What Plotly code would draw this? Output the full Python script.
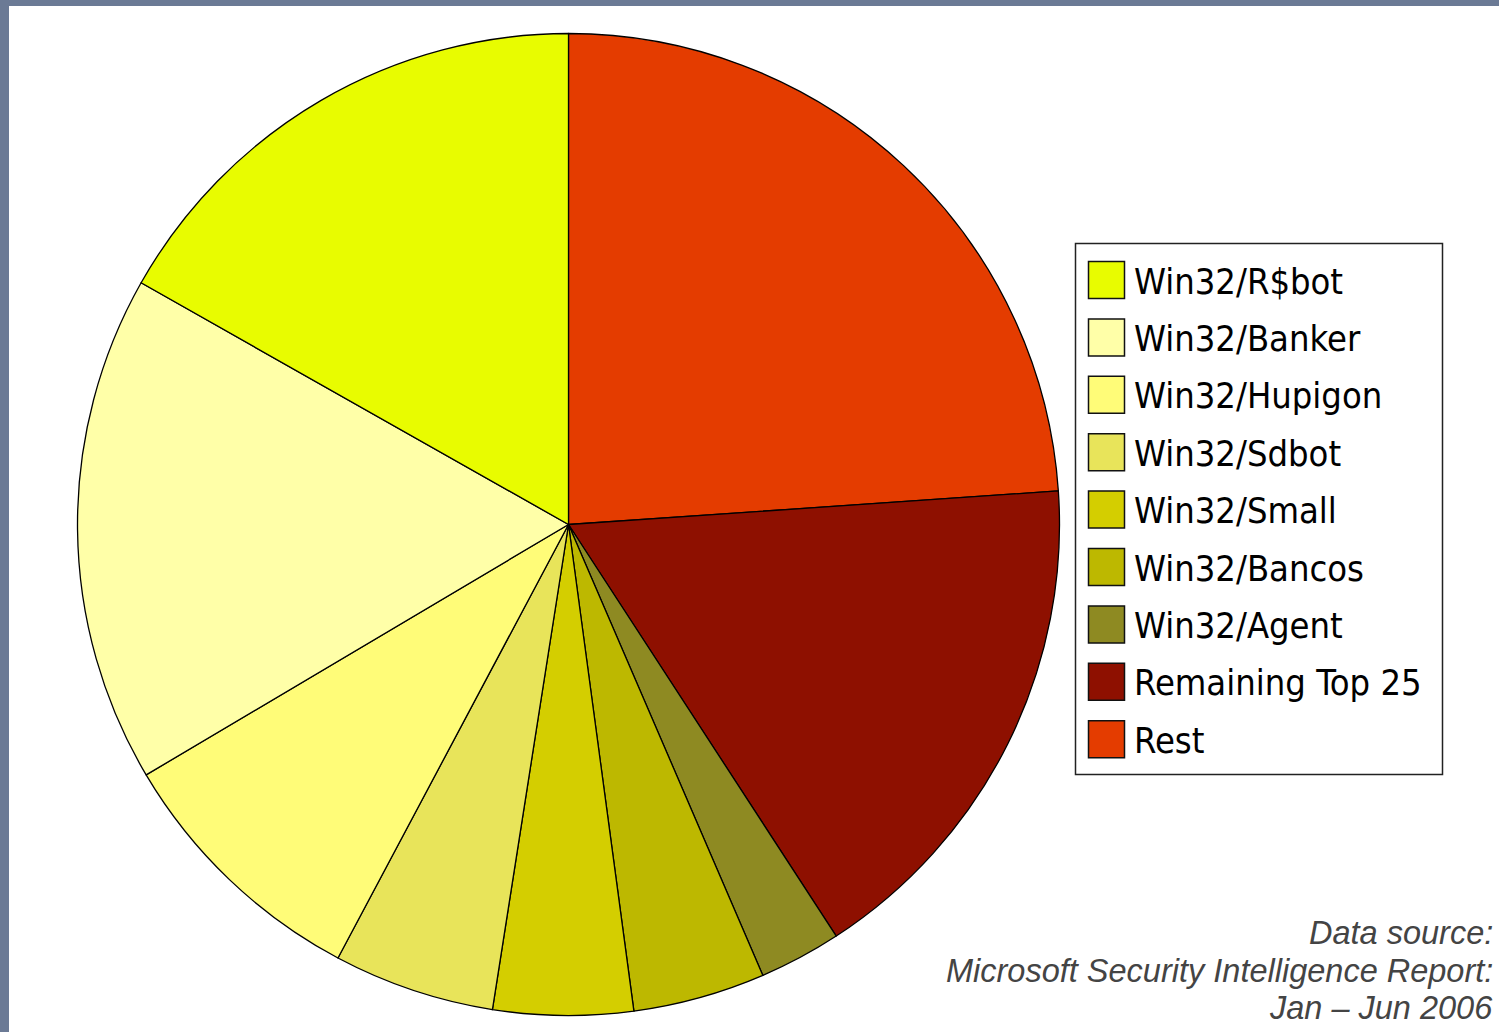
import plotly.graph_objects as go

# ---- data ----
labels = ["Win32/R$bot", "Win32/Banker", "Win32/Hupigon", "Win32/Sdbot",
          "Win32/Small", "Win32/Bancos", "Win32/Agent", "Remaining Top 25", "Rest"]
values = [16.8, 16.7, 8.7, 5.3, 4.6, 4.35, 2.7, 16.9, 23.9]
colors = ["#E8FC00", "#FFFFA8", "#FFFC78", "#E8E45A", "#D4CE00",
          "#BDB800", "#8E8A22", "#8E1000", "#E43C00"]
footer_lines = ["Data source:", "Microsoft Security Intelligence Report:", "Jan \u2013 Jun 2006"]

W, H = 1499, 1032


def px(x):
    return x / W


def py(y):
    return (H - y) / H


# pie geometry (pixels)
cx, cy, r = 568.5, 524.5, 491

fig = go.Figure()
# slices drawn clockwise from 12 o'clock: Rest first ... R$bot last
fig.add_trace(go.Pie(
    labels=labels[::-1],
    values=values[::-1],
    marker=dict(colors=colors[::-1], line=dict(color="#000000", width=1.3)),
    sort=False,
    direction="clockwise",
    rotation=0,
    textinfo="none",
    hoverinfo="label+percent",
    showlegend=False,
    domain=dict(x=[px(cx - r), px(cx + r)], y=[py(cy + r), py(cy - r)]),
))

shapes = []
annotations = []

# frame bands
shapes.append(dict(type="rect", xref="paper", yref="paper", x0=0, x1=px(9), y0=0, y1=1,
                   fillcolor="#6B7A95", line=dict(width=0), layer="above"))
shapes.append(dict(type="rect", xref="paper", yref="paper", x0=0, x1=1, y0=py(6), y1=1,
                   fillcolor="#6B7A95", line=dict(width=0), layer="above"))

# legend box
shapes.append(dict(type="rect", xref="paper", yref="paper",
                   x0=px(1075.5), x1=px(1442.5), y0=py(774.5), y1=py(243.5),
                   fillcolor="white", line=dict(color="#222222", width=1.5)))

row0, step = 280, 57.4
for i, (lab, col) in enumerate(zip(labels, colors)):
    yc = row0 + i * step
    shapes.append(dict(type="rect", xref="paper", yref="paper",
                       x0=px(1088.5), x1=px(1124.5), y0=py(yc + 18.5), y1=py(yc - 18.5),
                       fillcolor=col, line=dict(color="#111111", width=1.5)))
    annotations.append(dict(xref="paper", yref="paper", x=px(1132), y=py(yc + 1),
                            xanchor="left", yanchor="middle", showarrow=False,
                            text=lab,
                            font=dict(family="DejaVu Sans Condensed, DejaVu Sans",
                                      size=36, color="#000000")))

# footer
for j, line in enumerate(footer_lines):
    annotations.append(dict(xref="paper", yref="paper", x=px(1495), y=py(933 + j * 37.5),
                            xanchor="right", yanchor="middle", showarrow=False,
                            text="<i>" + line + "</i>",
                            font=dict(family="Liberation Sans, Arial", size=32.5, color="#444444")))

fig.update_layout(
    width=W, height=H,
    margin=dict(l=0, r=0, t=0, b=0),
    paper_bgcolor="white",
    plot_bgcolor="white",
    shapes=shapes,
    annotations=annotations,
    showlegend=False,
)

fig.write_html("out.html", config={"displayModeBar": False},
               post_script="document.body.style.margin='0';document.body.style.overflow='hidden';")
